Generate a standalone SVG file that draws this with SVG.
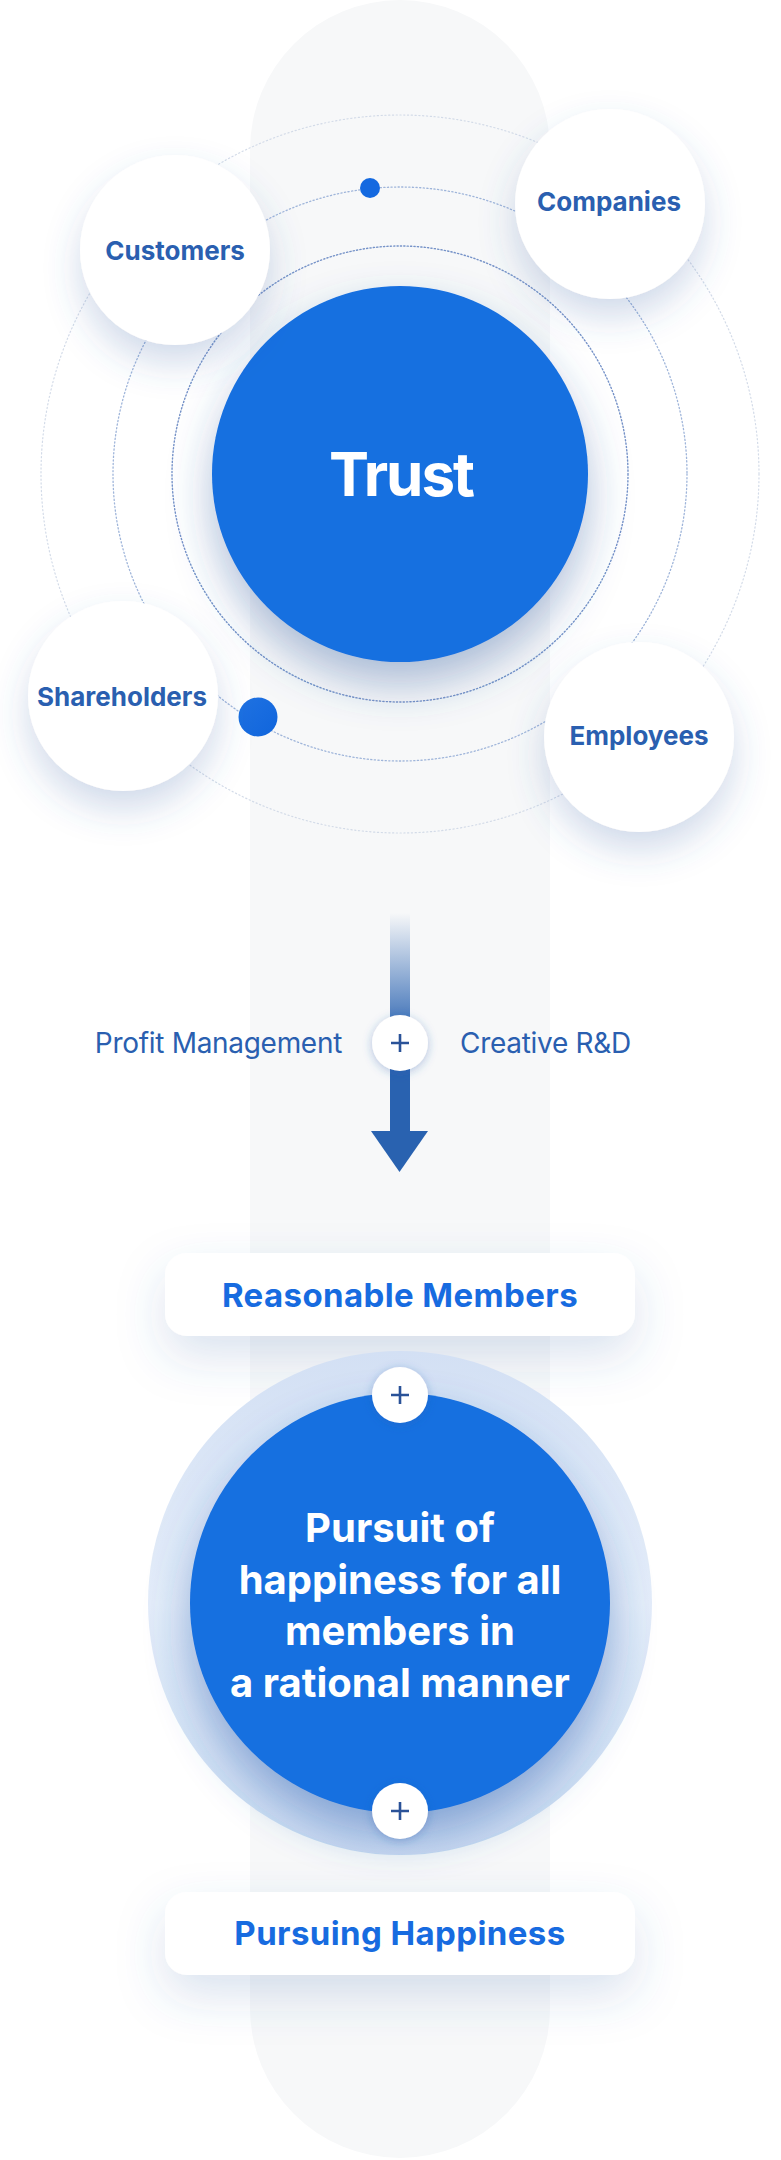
<svg xmlns="http://www.w3.org/2000/svg" width="781" height="2160" viewBox="0 0 781 2160">
<style>
.sat{fill:#fff;filter:url(#satSh)}
.satTxt{font-family:Inter,"Noto Sans",sans-serif;font-weight:700;font-size:26px;fill:#2a5fb0;text-anchor:middle;letter-spacing:0px}
.side{font-family:Inter,"Noto Sans",sans-serif;font-weight:400;font-size:28px;fill:#2a5fb0;letter-spacing:-0.3px}
.boxTxt{font-family:Inter,"Noto Sans",sans-serif;font-weight:700;font-size:33px;fill:#176be0;text-anchor:middle;letter-spacing:0.4px}
.bigTxt{font-family:Inter,"Noto Sans",sans-serif;font-weight:700;font-size:40px;fill:#fff;text-anchor:middle;letter-spacing:0px}
.ring{fill:none;stroke-linecap:round}
.plusBg{fill:#fff;filter:url(#plusSh)}
.plus{stroke:#2a5298;stroke-width:2.6;fill:none}
</style>
<defs>
<filter id="satSh" x="-50%" y="-50%" width="200%" height="220%">
<feDropShadow dx="0" dy="18" stdDeviation="18" flood-color="#3a63a8" flood-opacity="0.24"/>
</filter>
<filter id="trustSh" x="-40%" y="-40%" width="180%" height="200%">
<feDropShadow dx="0" dy="22" stdDeviation="22" flood-color="#2f5a9e" flood-opacity="0.38"/>
</filter>
<filter id="boxSh" x="-30%" y="-100%" width="160%" height="320%">
<feDropShadow dx="0" dy="20" stdDeviation="24" flood-color="#3a63a8" flood-opacity="0.18"/>
</filter>
<filter id="bigSh" x="-40%" y="-40%" width="180%" height="180%">
<feDropShadow dx="0" dy="22" stdDeviation="22" flood-color="#2a5db0" flood-opacity="0.45"/>
</filter>
<filter id="plusSh" x="-100%" y="-100%" width="300%" height="300%">
<feDropShadow dx="0" dy="2" stdDeviation="5" flood-color="#2a5db0" flood-opacity="0.35"/>
</filter>
<linearGradient id="barFade" x1="0" y1="913" x2="0" y2="1020" gradientUnits="userSpaceOnUse">
<stop offset="0" stop-color="#2962b0" stop-opacity="0"/>
<stop offset="1" stop-color="#2962b0" stop-opacity="0.85"/>
</linearGradient>
<linearGradient id="outerG" x1="0" y1="0" x2="0" y2="1">
<stop offset="0" stop-color="#d3e0f4"/>
<stop offset="0.5" stop-color="#e4edf9"/>
<stop offset="1" stop-color="#c9daf1"/>
</linearGradient>
<linearGradient id="dotG" x1="0" y1="0" x2="1" y2="1">
<stop offset="0" stop-color="#1f72e2"/>
<stop offset="1" stop-color="#1065dc"/>
</linearGradient>
</defs>

<rect id="background-pill" x="250" y="0" width="300" height="2158" rx="150" fill="#f7f8f9"/>

<g id="orbits">
<circle class="ring" cx="400" cy="474" r="359" stroke="#d3dbe8" stroke-width="1.2" stroke-dasharray="1.2 2.6"/>
<circle class="ring" cx="400" cy="474" r="287" stroke="#9fb5da" stroke-width="1.3" stroke-dasharray="1.2 2.4"/>
<circle class="ring" cx="400" cy="474" r="228" stroke="#7592c8" stroke-width="1.4" stroke-dasharray="1.2 2.2"/>
<circle id="dot-top" cx="370" cy="188" r="10" fill="#1469e0"/>
<circle id="dot-bottom" cx="258" cy="717" r="19.5" fill="url(#dotG)"/>
</g>

<g id="node-trust">
<circle cx="400" cy="474" r="188" fill="#166fe0" filter="url(#trustSh)"/>
<text x="401" y="496" font-family="Inter,'Noto Sans',sans-serif" font-weight="700" font-size="60" fill="#fff" text-anchor="middle" letter-spacing="-2">Trust</text>
</g>

<g id="node-customers">
<circle class="sat" cx="175" cy="250" r="95"/>
<text class="satTxt" x="175" y="260">Customers</text>
</g>
<g id="node-companies">
<circle class="sat" cx="610" cy="204" r="95"/>
<text class="satTxt" x="609" y="211">Companies</text>
</g>
<g id="node-shareholders">
<circle class="sat" cx="123" cy="696" r="95"/>
<text class="satTxt" x="122" y="706">Shareholders</text>
</g>
<g id="node-employees">
<circle class="sat" cx="639" cy="737" r="95"/>
<text class="satTxt" x="639" y="745">Employees</text>
</g>

<g id="connectors">
<rect x="390" y="913" width="20" height="110" fill="url(#barFade)"/>
<rect x="390" y="1060" width="20" height="73" fill="#2962b0"/>
<polygon points="371,1131 428,1131 399.5,1172" fill="#2962b0"/>
</g>

<g id="node-plus-arrow">
<circle class="plusBg" cx="400" cy="1043" r="28"/>
<path class="plus" d="M391 1043h18M400 1034v18"/>
</g>
<text id="label-profit" class="side" x="342" y="1053" text-anchor="end">Profit Management</text>
<text id="label-rd" class="side" x="460" y="1053">Creative R&amp;D</text>

<g id="node-reasonable">
<rect x="165" y="1253" width="470" height="83" rx="22" fill="#fff" filter="url(#boxSh)"/>
<text class="boxTxt" x="400" y="1307">Reasonable Members</text>
</g>

<g id="node-pursuit">
<circle cx="400" cy="1603" r="252" fill="url(#outerG)"/>
<circle cx="400" cy="1603" r="210" fill="#166fe0" filter="url(#bigSh)"/>
<text class="bigTxt" x="400" y="1542">Pursuit of</text>
<text class="bigTxt" x="400" y="1594">happiness for all</text>
<text class="bigTxt" x="400" y="1645">members in</text>
<text class="bigTxt" x="400" y="1697">a rational manner</text>
</g>

<g id="node-plus-top">
<circle class="plusBg" cx="400" cy="1395" r="28"/>
<path class="plus" d="M391 1395h18M400 1386v18"/>
</g>
<g id="node-plus-bottom">
<circle class="plusBg" cx="400" cy="1811" r="28"/>
<path class="plus" d="M391 1811h18M400 1802v18"/>
</g>

<g id="node-pursuing">
<rect x="165" y="1892" width="470" height="83" rx="22" fill="#fff" filter="url(#boxSh)"/>
<text class="boxTxt" x="400" y="1945">Pursuing Happiness</text>
</g>
</svg>
